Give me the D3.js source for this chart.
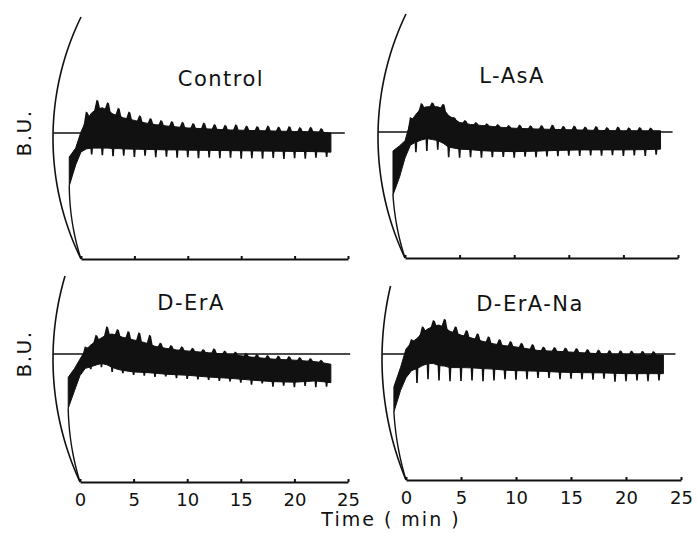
<!DOCTYPE html>
<html>
<head>
<meta charset="utf-8">
<script src="https://cdn.jsdelivr.net/npm/d3@7"></script>
<style>
  body { margin: 0; background: #fff; }
  text { font-family: "DejaVu Sans", sans-serif; fill: #111; }
</style>
</head>
<body>
<svg width="698" height="533"></svg>
<script>
// time grid (min) shared by the four farinograms
var minutes = [-1.1, -0.5, 0, 0.5, 1, 1.5, 2, 2.5, 3, 3.5, 4, 5, 6, 7, 8, 9, 10, 12, 14, 16, 18, 20, 22, 23.4];

// band edges in B.U. (solid part of the trace)
var controlUpper = [405, 440, 505, 550, 580, 595, 600, 590, 575, 568, 560, 550, 540, 533, 528, 524, 520, 516, 512, 510, 508, 506, 505, 500];
var controlLower = [290, 373, 425, 437, 440, 440, 440, 440, 438, 438, 437, 436, 435, 434, 433, 433, 432, 431, 430, 429, 428, 427, 426, 424];
var asaUpper = [425, 445, 465, 540, 570, 595, 600, 600, 600, 592, 565, 538, 530, 526, 522, 518, 515, 512, 510, 508, 506, 505, 505, 505];
var asaLower = [250, 321, 397, 448, 460, 468, 474, 470, 466, 455, 440, 432, 430, 426, 424, 423, 422, 424, 427, 429, 429, 429, 430, 432];
var eraUpper = [409, 444, 480, 515, 535, 550, 563, 575, 578, 572, 565, 555, 545, 530, 522, 516, 512, 505, 498, 488, 480, 476, 470, 460];
var eraLower = [288, 358, 416, 444, 450, 457, 463, 458, 448, 440, 436, 430, 428, 425, 421, 419, 417, 410, 405, 398, 392, 390, 395, 388];
var eranaUpper = [370, 446, 520, 545, 562, 585, 600, 610, 615, 605, 590, 575, 563, 550, 540, 533, 528, 514, 510, 505, 500, 498, 496, 496];
var eranaLower = [270, 355, 406, 434, 442, 454, 462, 462, 454, 452, 446, 446, 445, 442, 440, 436, 434, 432, 428, 426, 425, 422, 422, 422];

// upward peaks of the oscillation
var peakTimes = [0.5, 1.5, 2.5, 3.5, 4.5, 5.5, 6.5, 7.5, 8.5, 9.5, 10.5, 11.5, 12.5, 13.5, 14.5, 15.5, 16.5, 17.5, 18.5, 19.5, 20.5, 21.5, 22.5];
var controlPeaks = [585, 632, 622, 600, 585, 570, 560, 552, 548, 545, 540, 542, 536, 533, 535, 530, 528, 530, 526, 528, 524, 525, 520];
var asaPeaks = [560, 615, 618, 612, 560, 548, 540, 535, 532, 528, 530, 527, 528, 530, 525, 526, 522, 524, 520, 522, 519, 520, 518];
var eraPeaks = [530, 575, 608, 598, 590, 585, 575, 545, 535, 530, 524, 520, 522, 514, 510, 505, 500, 496, 494, 492, 488, 484, 478];
var eranaPeaks = [560, 610, 635, 640, 610, 595, 582, 570, 560, 552, 545, 540, 530, 528, 526, 524, 520, 518, 516, 515, 514, 513, 512];

// downward dips of the oscillation
var dipTimes = [1, 2, 3, 4, 5, 6, 7, 8, 9, 10, 11, 12, 13, 14, 15, 16, 17, 18, 19, 20, 21, 22, 23];
var controlDips = [415, 412, 408, 410, 405, 410, 404, 406, 402, 404, 400, 403, 400, 402, 398, 400, 398, 401, 397, 400, 398, 402, 405];
var asaDips = [420, 425, 430, 400, 398, 400, 398, 400, 401, 398, 402, 400, 403, 404, 406, 405, 407, 406, 408, 405, 407, 405, 410];
var eraDips = [440, 448, 430, 425, 418, 415, 410, 412, 405, 402, 400, 398, 395, 393, 388, 380, 385, 372, 376, 370, 375, 370, 372];
var eranaDips = [385, 400, 395, 392, 393, 395, 392, 395, 400, 398, 400, 405, 405, 400, 402, 400, 398, 402, 390, 392, 395, 392, 395];

var titles = ["Control", "L-AsA", "D-ErA", "D-ErA-Na"];
var tickValues = [0, 5, 10, 15, 20, 25];

// page layout of each panel
var panels = [
  {title: titles[0], upper: controlUpper, lower: controlLower, peaks: controlPeaks, dips: controlDips,
   x0: 81, x25: 348, base: 259, ref: 133, arcDepth: 28, arcTop: 965, refEnd: 24.7, tx: 221, ty: 86, buX: 31, labels: false},
  {title: titles[1], upper: asaUpper, lower: asaLower, peaks: asaPeaks, dips: asaDips,
   x0: 405, x25: 678, base: 258, ref: 132, arcDepth: 27, arcTop: 970, refEnd: 24.5, tx: 512, ty: 83, buX: 0, labels: false},
  {title: titles[2], upper: eraUpper, lower: eraLower, peaks: eraPeaks, dips: eraDips,
   x0: 80, x25: 348, base: 482, ref: 354, arcDepth: 27, arcTop: 810, refEnd: 25.2, tx: 191, ty: 310, buX: 31, labels: true},
  {title: titles[3], upper: eranaUpper, lower: eranaLower, peaks: eranaPeaks, dips: eranaDips,
   x0: 406, x25: 681, base: 480, ref: 354, arcDepth: 24, arcTop: 775, refEnd: 24.5, tx: 530, ty: 311, buX: 0, labels: true}
];

var svg = d3.select("svg");

panels.forEach(function(p) {
  var x = d3.scaleLinear().domain([0, 25]).range([p.x0, p.x25]);
  var y = d3.scaleLinear().domain([0, 500]).range([p.base, p.ref]);
  var upperAt = d3.scaleLinear().domain(minutes).range(p.upper);
  var lowerAt = d3.scaleLinear().domain(minutes).range(p.lower);
  var g = svg.append("g");

  // recorder arc (time-zero arc of the chart paper)
  var d = p.arcDepth, cy = y(480), dy = p.base - cy;
  var R = (d * d + dy * dy) / (2 * d), cx = x(0) - d + R;
  function arcX(py) { return cx - Math.sqrt(R * R - (py - cy) * (py - cy)); }
  var arcPts = d3.range(p.base, y(p.arcTop), -2).map(function(py) { return [arcX(py), py]; });
  g.append("path")
    .attr("d", d3.line()(arcPts))
    .attr("fill", "none").attr("stroke", "#111").attr("stroke-width", 1.6);

  // pen rising from zero to the start of the trace
  var yStart = y(p.lower[0]), xStart = x(minutes[0]);
  var shift = xStart - arcX(yStart);
  var risePts = d3.range(p.base, yStart, -2).map(function(py) {
    return [arcX(py) + shift * (p.base - py) / (p.base - yStart), py];
  });
  risePts.push([xStart, yStart]);
  g.append("path")
    .attr("d", d3.line()(risePts))
    .attr("fill", "none").attr("stroke", "#111").attr("stroke-width", 1.4);

  // 500 B.U. line
  g.append("line")
    .attr("x1", arcX(y(500))).attr("x2", x(p.refEnd))
    .attr("y1", y(500)).attr("y2", y(500))
    .attr("stroke", "#111").attr("stroke-width", 1.6);

  // time axis
  var axis = g.append("g")
    .attr("transform", "translate(0," + p.base + ")")
    .call(d3.axisBottom(x).tickValues(tickValues)
      .tickSizeInner(-3).tickSizeOuter(0).tickPadding(11)
      .tickFormat(p.labels ? d3.format("d") : ""));
  axis.select(".domain").attr("stroke", "#111").attr("stroke-width", 2.2);
  axis.selectAll(".tick line").attr("stroke", "#111").attr("stroke-width", 2);
  axis.selectAll(".tick text")
    .style("font-family", "'DejaVu Sans', sans-serif")
    .style("font-size", "18px").attr("fill", "#111");

  // the trace band
  var area = d3.area()
    .x(function(t) { return x(t); })
    .y0(function(t, i) { return y(p.lower[i]); })
    .y1(function(t, i) { return y(p.upper[i]); });
  g.append("path").attr("d", area(minutes)).attr("fill", "#111")
    .attr("stroke", "#111").attr("stroke-width", 1);

  // peaks above the band
  g.selectAll(".peak").data(peakTimes).enter().append("path")
    .attr("d", function(t, i) {
      return d3.line()([
        [x(t - 0.3), y(upperAt(t - 0.3)) + 1],
        [x(t - 0.05), y(p.peaks[i])],
        [x(t + 0.12), y(p.peaks[i]) + 1],
        [x(t + 0.3), y(upperAt(t + 0.3)) + 1]
      ]) + "Z";
    })
    .attr("fill", "#111");

  // dips below the band
  g.selectAll(".dip").data(dipTimes).enter().append("path")
    .attr("d", function(t, i) {
      var yb = y(lowerAt(t)) - 1, yd = y(p.dips[i]);
      return d3.line()([
        [x(t) - 1.4, yb], [x(t) - 0.8, yd], [x(t) + 0.8, yd], [x(t) + 1.4, yb]
      ]) + "Z";
    })
    .attr("fill", "#111");

  // panel title
  g.append("text")
    .attr("x", p.tx).attr("y", p.ty)
    .attr("text-anchor", "middle")
    .style("font-size", "21px").style("letter-spacing", "1.5px")
    .text(p.title);

  // y label
  if (p.buX) {
    g.append("text")
      .attr("transform", "translate(" + p.buX + "," + y(500) + ") rotate(-90)")
      .attr("text-anchor", "middle")
      .style("font-size", "20px").style("letter-spacing", "1.5px")
      .text("B.U.");
  }
});

svg.append("text")
  .attr("x", 391).attr("y", 526)
  .attr("text-anchor", "middle")
  .style("font-size", "19px").style("letter-spacing", "2px")
  .text("Time ( min )");
</script>
</body>
</html>
